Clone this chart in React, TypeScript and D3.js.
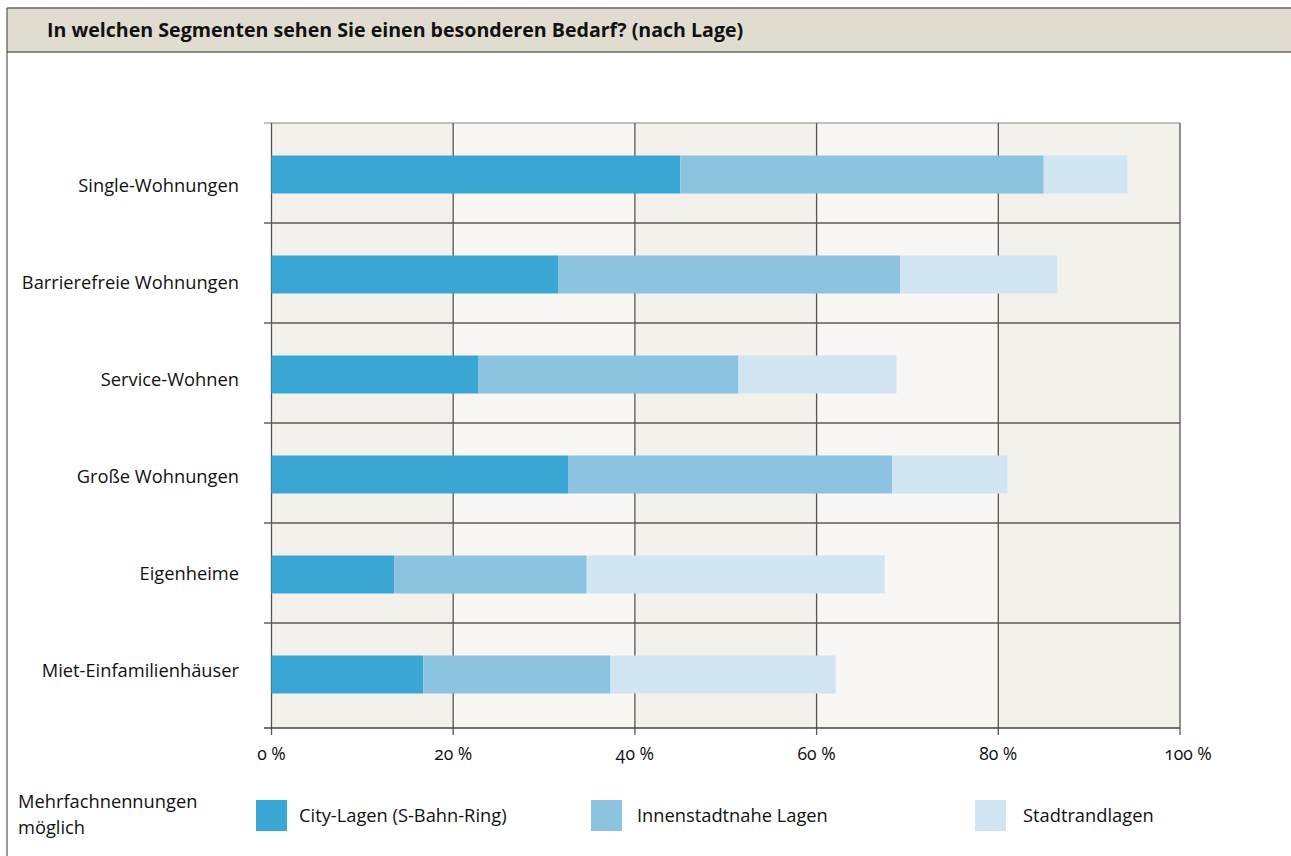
import React from "react";
import * as d3 from "d3";

const categories = [
  "Single-Wohnungen",
  "Barrierefreie Wohnungen",
  "Service-Wohnen",
  "Große Wohnungen",
  "Eigenheime",
  "Miet-Einfamilienhäuser",
];
const cityValues = [45, 31.6, 22.8, 32.7, 13.5, 16.7];
const innenValues = [40, 37.6, 28.6, 35.6, 21.2, 20.6];
const randValues = [9.2, 17.3, 17.4, 12.7, 32.8, 24.8];
const seriesNames = ["City-Lagen (S-Bahn-Ring)", "Innenstadtnahe Lagen", "Stadtrandlagen"];
const seriesColors = ["#3aa6d4", "#8cc3e1", "#d2e5f2"];
const xTicks = [0, 20, 40, 60, 80, 100];
const title = "In welchen Segmenten sehen Sie einen besonderen Bedarf? (nach Lage)";
const note = ["Mehrfachnennungen", "möglich"];

const W = 1291;
const H = 856;
const FONT = "'Open Sans', 'Noto Sans', sans-serif";

export default function App() {
  const left = 271.5;
  const right = 1180;
  const top = 123;
  const bottom = 728;
  const x = d3.scaleLinear().domain([0, 100]).range([left, right]);
  const y = d3.scaleBand<string>().domain(categories).range([top, 723]).paddingInner(0).paddingOuter(0);
  const labelY = d3.scalePoint<string>().domain(categories).range([192, 677]);
  const barH = 38;
  const fs = 18.3;

  const rows = categories.map((c, i) => ({ "0": cityValues[i], "1": innenValues[i], "2": randValues[i] }));
  const stack = d3.stack<any>().keys(["0", "1", "2"])(rows);

  const bgCols = [0, 1, 2, 3, 4];
  const legendX = [256, 591, 975];
  const legendTextX = [299, 637, 1023];

  return (
    <svg width={W} height={H} style={{ position: "absolute", left: 0, top: 0 }} fontFamily={FONT}>
      <rect x={0} y={0} width={W} height={H} fill="#ffffff" />
      {/* header */}
      <rect x={7} y={8} width={W - 7} height={44} fill="#e0ddd0" />
      <line x1={7} x2={W} y1={8} y2={8} stroke="#666" strokeWidth={1.5} />
      <line x1={7} x2={W} y1={52} y2={52} stroke="#666" strokeWidth={1.5} />
      <line x1={7} x2={7} y1={8} y2={H} stroke="#555" strokeWidth={1.2} />
      <text x={47} y={37} fontSize={19.6} fontWeight={700} fill="#111">{title}</text>

      {/* column backgrounds */}
      {bgCols.map((i) => (
        <rect key={i} x={x(i * 20)} y={top} width={x((i + 1) * 20) - x(i * 20)} height={bottom - top}
          fill={i % 2 === 0 ? "#f2f1ec" : "#f8f7f3"} />
      ))}

      {/* row separators */}
      {categories.slice(1).map((c) => (
        <line key={c} x1={264} x2={right} y1={y(c)!} y2={y(c)!} stroke="#111" strokeWidth={1.2} />
      ))}
      <line x1={264} x2={right} y1={top} y2={top} stroke="#888" strokeWidth={1.2} />

      {/* vertical grid */}
      {xTicks.map((t) => (
        <line key={t} x1={x(t)} x2={x(t)} y1={top} y2={bottom + 7} stroke="#555" strokeWidth={1.3} />
      ))}

      {/* bars */}
      {stack.map((s, si) =>
        s.map((d, i) => {
          const c = categories[i];
          const cy = y(c)! + y.bandwidth() / 2 + 1.5;
          return (
            <rect key={si + "-" + i} x={x(d[0])} y={cy - barH / 2} width={x(d[1]) - x(d[0])} height={barH}
              fill={seriesColors[si]} />
          );
        })
      )}

      {/* axis */}
      <line x1={264} x2={right} y1={bottom} y2={bottom} stroke="#444" strokeWidth={1.3} />
      {categories.map((c) => (
        <text key={c} x={239} y={labelY(c)!} textAnchor="end" fontSize={fs} fill="#111">{c}</text>
      ))}
      {xTicks.map((t, i) => (
        <text key={t} x={x(t) + (i === xTicks.length - 1 ? 8 : 0)} y={760} textAnchor="middle" fontSize={17.5} fill="#111"
          style={{ fontVariantNumeric: "oldstyle-nums" }}>{`${t} %`}</text>
      ))}

      {/* legend */}
      <text x={18} y={808} fontSize={fs} fill="#111">{note[0]}</text>
      <text x={18} y={834} fontSize={fs} fill="#111">{note[1]}</text>
      {seriesNames.map((n, i) => (
        <g key={n}>
          <rect x={legendX[i]} y={800} width={31} height={31} fill={seriesColors[i]} />
          <text x={legendTextX[i]} y={822} fontSize={fs} fill="#111">{n}</text>
        </g>
      ))}
    </svg>
  );
}
